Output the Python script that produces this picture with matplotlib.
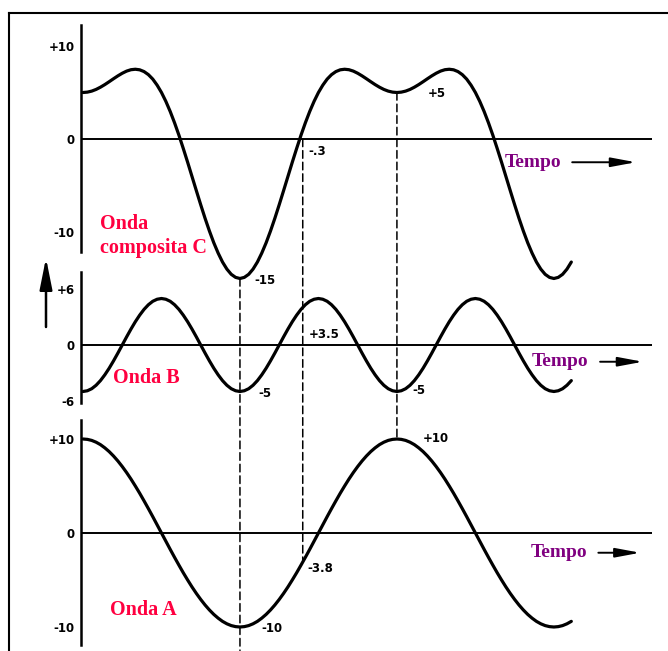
import matplotlib
matplotlib.use("Agg")
import matplotlib.pyplot as plt
from matplotlib.patches import ConnectionPatch, FancyArrowPatch
from matplotlib.lines import Line2D

# phase angle of wave A (degrees), sampled every 5 degrees
theta = list(range(0, 561, 5))

wave_a = [10, 9.96, 9.85, 9.66, 9.40, 9.06, 8.66, 8.19, 7.66, 7.07, 6.43, 5.74, 5.00, 4.23, 3.42, 2.59, 1.74, 0.87, 0,
          -0.87, -1.74, -2.59, -3.42, -4.23, -5.00, -5.74, -6.43, -7.07, -7.66, -8.19, -8.66, -9.06, -9.40, -9.66, -9.85, -9.96, -10,
          -9.96, -9.85, -9.66, -9.40, -9.06, -8.66, -8.19, -7.66, -7.07, -6.43, -5.74, -5.00, -4.23, -3.42, -2.59, -1.74, -0.87, 0,
          0.87, 1.74, 2.59, 3.42, 4.23, 5.00, 5.74, 6.43, 7.07, 7.66, 8.19, 8.66, 9.06, 9.40, 9.66, 9.85, 9.96, 10,
          9.96, 9.85, 9.66, 9.40, 9.06, 8.66, 8.19, 7.66, 7.07, 6.43, 5.74, 5.00, 4.23, 3.42, 2.59, 1.74, 0.87, 0,
          -0.87, -1.74, -2.59, -3.42, -4.23, -5.00, -5.74, -6.43, -7.07, -7.66, -8.19, -8.66, -9.06, -9.40, -9.66, -9.85, -9.96, -10,
          -9.96, -9.85, -9.66, -9.40]

wave_b = [-5, -4.92, -4.70, -4.33, -3.83, -3.21, -2.50, -1.71, -0.87, 0, 0.87, 1.71, 2.50, 3.21, 3.83, 4.33, 4.70, 4.92, 5,
          4.92, 4.70, 4.33, 3.83, 3.21, 2.50, 1.71, 0.87, 0, -0.87, -1.71, -2.50, -3.21, -3.83, -4.33, -4.70, -4.92, -5,
          -4.92, -4.70, -4.33, -3.83, -3.21, -2.50, -1.71, -0.87, 0, 0.87, 1.71, 2.50, 3.21, 3.83, 4.33, 4.70, 4.92, 5,
          4.92, 4.70, 4.33, 3.83, 3.21, 2.50, 1.71, 0.87, 0, -0.87, -1.71, -2.50, -3.21, -3.83, -4.33, -4.70, -4.92, -5,
          -4.92, -4.70, -4.33, -3.83, -3.21, -2.50, -1.71, -0.87, 0, 0.87, 1.71, 2.50, 3.21, 3.83, 4.33, 4.70, 4.92, 5,
          4.92, 4.70, 4.33, 3.83, 3.21, 2.50, 1.71, 0.87, 0, -0.87, -1.71, -2.50, -3.21, -3.83, -4.33, -4.70, -4.92, -5,
          -4.92, -4.70, -4.33, -3.83]

wave_c = [5, 5.04, 5.15, 5.33, 5.57, 5.85, 6.16, 6.48, 6.79, 7.07, 7.30, 7.45, 7.50, 7.44, 7.25, 6.92, 6.44, 5.79, 5,
          4.05, 2.96, 1.74, 0.41, -1.02, -2.50, -4.03, -5.56, -7.07, -8.53, -9.90, -11.16, -12.27, -13.23, -13.99, -14.55, -14.88, -15,
          -14.88, -14.55, -13.99, -13.23, -12.27, -11.16, -9.90, -8.53, -7.07, -5.56, -4.03, -2.50, -1.02, 0.41, 1.74, 2.96, 4.05, 5,
          5.79, 6.44, 6.92, 7.25, 7.44, 7.50, 7.45, 7.30, 7.07, 6.79, 6.48, 6.16, 5.85, 5.57, 5.33, 5.15, 5.04, 5,
          5.04, 5.15, 5.33, 5.57, 5.85, 6.16, 6.48, 6.79, 7.07, 7.30, 7.45, 7.50, 7.44, 7.25, 6.92, 6.44, 5.79, 5,
          4.05, 2.96, 1.74, 0.41, -1.02, -2.50, -4.03, -5.56, -7.07, -8.53, -9.90, -11.16, -12.27, -13.23, -13.99, -14.55, -14.88, -15,
          -14.88, -14.55, -13.99, -13.23]

ticks_c = [10, 0, -10]
ticks_b = [6, 0, -6]
ticks_a = [10, 0, -10]

# dashed guides: phase, value on C, value on A
guide_theta = [180, 252, 360]
guide_c = [-15, 0, 5]
guide_a = [-12.5, -3.1, 10]

# point labels: phase, value, text
notes_c = [(180, -15, "-15"), (252, 0, "-.3"), (360, 5, "+5")]
notes_b = [(180, -5, "-5"), (252, 3.5, "+3.5"), (360, -5, "-5")]
notes_a = [(180, -10, "-10"), (252, -3.8, "-3.8"), (360, 10, "+10")]

W, H = 668, 651
RED = "#ff0040"
PURPLE = "#800080"
SERIF = ["Liberation Serif", "DejaVu Serif"]

fig = plt.figure(figsize=(W / 100, H / 100), dpi=100)

X0, X1, ORIGIN, PX_DEG = 81, 652, 83, 0.872
XLIM = ((X0 - ORIGIN) / PX_DEG, (X1 - ORIGIN) / PX_DEG)


def add_panel(zero_px, scale, lo, hi, bounds, ticks):
    top = zero_px - hi * scale
    bottom = zero_px - lo * scale
    ax = fig.add_axes([X0 / W, 1 - bottom / H, (X1 - X0) / W, (bottom - top) / H])
    ax.set_xlim(*XLIM)
    ax.set_ylim(lo, hi)
    ax.patch.set_visible(False)
    for s in ["top", "right", "bottom"]:
        ax.spines[s].set_visible(False)
    ax.spines["left"].set_linewidth(1.8)
    ax.spines["left"].set_bounds(*bounds)
    ax.set_xticks([])
    ax.set_yticks(ticks)
    ax.set_yticklabels([f"+{t}" if t > 0 else str(t) for t in ticks],
                       fontsize=8.5, fontweight="bold")
    ax.tick_params(axis="y", length=0, pad=4.5)
    ax.axhline(0, color="black", lw=1.4)
    return ax


axC = add_panel(139, 9.3, -16.5, 13, (-12.15, 12.25), ticks_c)
axB = add_panel(345, 9.3, -7, 8.5, (-6.2, 7.85), ticks_b)
axA = add_panel(533, 9.4, -12.5, 12.5, (-11.9, 12.0), ticks_a)

for ax, vals in [(axC, wave_c), (axB, wave_b), (axA, wave_a)]:
    ax.plot(theta, vals, color="black", lw=2.3, clip_on=False,
            solid_capstyle="round", solid_joinstyle="round")

# dashed guides across the three panels
for t, vc, va in zip(guide_theta, guide_c, guide_a):
    con = ConnectionPatch(xyA=(t, vc), coordsA=axC.transData,
                          xyB=(t, va), coordsB=axA.transData,
                          color="black", lw=1.1, linestyle=(0, (5, 2.6)))
    fig.add_artist(con)

# value labels
offsets = {
    "c": [(14, -2), (6, -12), (31, -1)],
    "b": [(18, -2), (6, -22), (15, 1)],
    "a": [(21, -1), (5, 0), (26, 0)],
}
for ax, notes, key in [(axC, notes_c, "c"), (axB, notes_b, "b"), (axA, notes_a, "a")]:
    for (t, v, txt), off in zip(notes, offsets[key]):
        ax.annotate(txt, xy=(t, v), xytext=off, textcoords="offset pixels",
                    ha="left", va="center", fontsize=8.5, fontweight="bold")

# wave names
axC.text(19.5, -10.4, "Onda\ncomposita C", color=RED, family=SERIF, fontweight="bold",
         fontsize=14.5, ha="left", va="center", linespacing=1.25)
axB.text(34, -3.55, "Onda B", color=RED, family=SERIF, fontweight="bold",
         fontsize=14.5, ha="left", va="center")
axA.text(31, -8.2, "Onda A", color=RED, family=SERIF, fontweight="bold",
         fontsize=14.5, ha="left", va="center")

# "Tempo" with arrow
for ax, x_txt, y, x_start, x_end in [(axC, 484, -2.5, 561, 634),
                                     (axB, 515, -1.8, 593, 642),
                                     (axA, 513, -2.1, 591, 639)]:
    ax.text(x_txt, y, "Tempo", color=PURPLE, family=SERIF, fontweight="bold",
            fontsize=14, ha="left", va="center")
    ax.annotate("", xy=(x_end, y), xytext=(x_start, y),
                arrowprops=dict(arrowstyle="-|>,head_length=1.5,head_width=0.28",
                                color="black", lw=1.4, shrinkA=0, shrinkB=0,
                                mutation_scale=10))

# frame of the scanned figure
fig.add_artist(Line2D([9 / W, 1], [1 - 13 / H, 1 - 13 / H], transform=fig.transFigure,
                      color="black", lw=1.5))
fig.add_artist(Line2D([9 / W, 9 / W], [0, 1 - 13 / H], transform=fig.transFigure,
                      color="black", lw=1.5))

# vertical arrow at left
up = FancyArrowPatch((46 / W, 1 - 327 / H), (46 / W, 1 - 258 / H), transform=fig.transFigure,
                     arrowstyle="-|>,head_length=1.9,head_width=0.38", mutation_scale=10,
                     color="black", lw=1.8, shrinkA=0, shrinkB=0)
fig.add_artist(up)

fig.savefig("out.png", dpi=100)
